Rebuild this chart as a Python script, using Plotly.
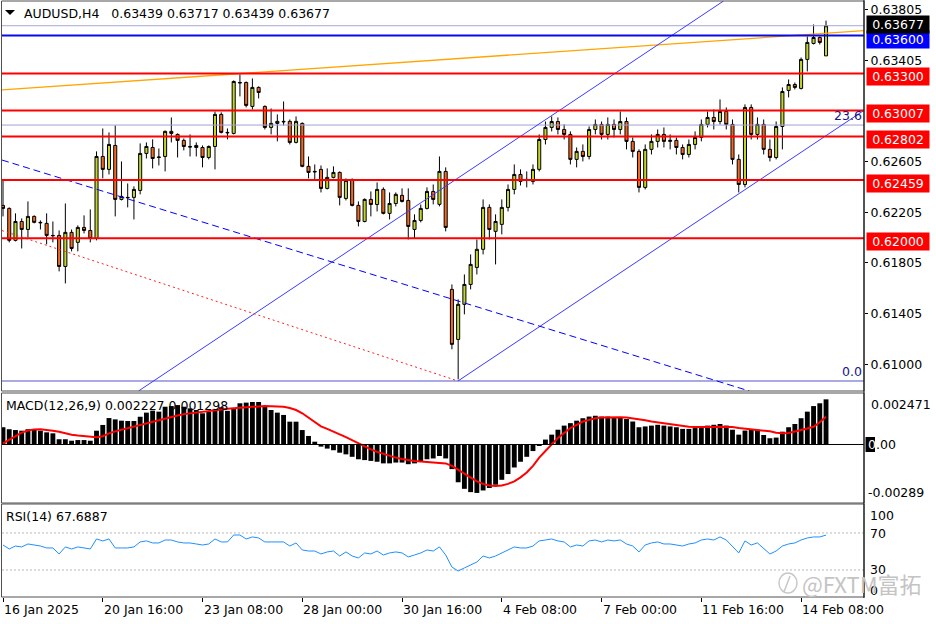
import plotly.graph_objects as go

# ---------------- data ----------------
bar_index = list(range(133))

opens = [0.62259,0.62235,0.61983,0.62132,0.62069,0.62172,0.62125,0.62117,0.62022,0.62022,
         0.61777,0.62046,0.61967,0.62085,0.62061,0.61998,0.62645,0.62543,0.62732,0.62306,
         0.62322,0.62322,0.62377,0.62669,0.62716,0.62637,0.62645,0.62843,0.62819,0.62772,
         0.62724,0.62732,0.62716,0.62637,0.62724,0.62977,0.62835,0.62827,0.63229,0.63229,
         0.63040,0.63190,0.63040,0.62874,0.62906,0.62922,0.62922,0.62756,0.62906,0.62567,
         0.62527,0.62543,0.62393,0.62480,0.62519,0.62314,0.62456,0.62259,0.62132,0.62306,
         0.62266,0.62385,0.62196,0.62274,0.62338,0.62298,0.62069,0.62140,0.62235,0.62369,
         0.62267,0.62527,0.61596,0.61201,0.61478,0.61635,0.61769,0.61912,0.62243,0.62054,
         0.62109,0.62243,0.62385,0.62503,0.62464,0.62448,0.62543,0.62779,0.62874,0.62921,
         0.62858,0.62819,0.62622,0.62685,0.62645,0.62858,0.62898,0.62819,0.62898,0.62858,
         0.62921,0.62764,0.62685,0.62401,0.62701,0.62764,0.62819,0.62764,0.62772,0.62716,
         0.62661,0.62740,0.62795,0.62898,0.62953,0.62921,0.63000,0.62898,0.62622,0.62424,
         0.63032,0.62819,0.62898,0.62701,0.62637,0.62882,0.63166,0.63213,0.63182,0.63411,
         0.63537,0.63584,0.63439]
highs = [0.62464,0.62243,0.62196,0.62156,0.62290,0.62180,0.62140,0.62196,0.62132,0.62061,
         0.62274,0.62069,0.62101,0.62180,0.62227,0.62685,0.62866,0.62835,0.62890,0.62606,
         0.62432,0.62409,0.62748,0.62756,0.62780,0.62708,0.62850,0.62953,0.62827,0.62787,
         0.62819,0.62756,0.62732,0.62732,0.63000,0.62993,0.62866,0.63245,0.63292,0.63237,
         0.63261,0.63198,0.63048,0.63024,0.62977,0.63079,0.62937,0.62961,0.62914,0.62645,
         0.62582,0.62574,0.62551,0.62567,0.62527,0.62472,0.62472,0.62290,0.62314,0.62369,
         0.62440,0.62401,0.62361,0.62361,0.62393,0.62393,0.62188,0.62266,0.62401,0.62424,
         0.62645,0.62559,0.61635,0.61517,0.61714,0.61872,0.61990,0.62306,0.62267,0.62188,
         0.62306,0.62424,0.62582,0.62543,0.62527,0.62582,0.62819,0.62921,0.62961,0.62953,
         0.62898,0.62843,0.62716,0.62740,0.62882,0.62937,0.62921,0.62953,0.62937,0.63000,
         0.62953,0.62795,0.62701,0.62740,0.62819,0.62858,0.62874,0.62819,0.62795,0.62740,
         0.62779,0.62843,0.62937,0.63000,0.63016,0.63095,0.63032,0.62937,0.62661,0.63056,
         0.63056,0.62953,0.62937,0.62779,0.62921,0.63190,0.63253,0.63229,0.63426,0.63592,
         0.63687,0.63592,0.63717]
lows = [0.62172,0.61967,0.61975,0.61919,0.62006,0.62117,0.62069,0.61951,0.61967,0.61738,
        0.61643,0.61896,0.61896,0.62038,0.61967,0.61983,0.62472,0.62503,0.62172,0.62298,
        0.62243,0.62148,0.62346,0.62629,0.62551,0.62574,0.62527,0.62756,0.62637,0.62693,
        0.62645,0.62645,0.62559,0.62622,0.62543,0.62827,0.62780,0.62819,0.63119,0.63032,
        0.63016,0.63103,0.62858,0.62819,0.62764,0.62890,0.62740,0.62748,0.62560,0.62472,
        0.62464,0.62361,0.62385,0.62472,0.62259,0.62298,0.62251,0.62093,0.62125,0.62172,
        0.62211,0.62188,0.62148,0.62251,0.62282,0.61990,0.61998,0.62125,0.62227,0.62267,
        0.62251,0.62054,0.61123,0.60886,0.61399,0.61596,0.61714,0.61872,0.61990,0.61793,
        0.62030,0.62211,0.62346,0.62416,0.62401,0.62424,0.62527,0.62740,0.62843,0.62819,
        0.62779,0.62582,0.62559,0.62606,0.62622,0.62819,0.62779,0.62779,0.62795,0.62819,
        0.62701,0.62637,0.62361,0.62385,0.62661,0.62716,0.62716,0.62701,0.62661,0.62622,
        0.62637,0.62701,0.62764,0.62874,0.62858,0.62898,0.62858,0.62582,0.62361,0.62401,
        0.62779,0.62779,0.62661,0.62606,0.62622,0.62701,0.63111,0.63174,0.63174,0.63316,
        0.63529,0.63529,0.63439]
closes = [0.62235,0.61983,0.62132,0.62069,0.62172,0.62125,0.62122,0.62022,0.62020,0.61777,
          0.62046,0.61919,0.62085,0.62061,0.61998,0.62645,0.62543,0.62740,0.62306,0.62330,
          0.62320,0.62385,0.62669,0.62724,0.62629,0.62640,0.62843,0.62827,0.62772,0.62724,
          0.62720,0.62716,0.62637,0.62724,0.62977,0.62835,0.62832,0.63237,0.63226,0.63048,
          0.63190,0.63150,0.62874,0.62906,0.62922,0.62919,0.62756,0.62922,0.62567,0.62519,
          0.62524,0.62393,0.62480,0.62519,0.62322,0.62456,0.62259,0.62132,0.62306,0.62266,
          0.62385,0.62196,0.62274,0.62346,0.62290,0.62093,0.62140,0.62235,0.62369,0.62306,
          0.62527,0.62085,0.61162,0.61478,0.61635,0.61793,0.61912,0.62243,0.62069,0.62132,
          0.62243,0.62385,0.62503,0.62448,0.62462,0.62543,0.62779,0.62874,0.62921,0.62858,
          0.62819,0.62622,0.62685,0.62645,0.62858,0.62898,0.62819,0.62898,0.62858,0.62921,
          0.62764,0.62685,0.62401,0.62701,0.62764,0.62819,0.62764,0.62772,0.62716,0.62661,
          0.62740,0.62795,0.62898,0.62953,0.62921,0.63000,0.62898,0.62622,0.62424,0.63032,
          0.62819,0.62898,0.62701,0.62637,0.62882,0.63158,0.63213,0.63190,0.63411,0.63545,
          0.63584,0.63545,0.63677]

macd_main = [0.00105,0.00093,0.00088,0.00084,0.00093,0.00093,0.00084,0.00074,0.00068,0.00032,
             0.00032,0.00023,0.00027,0.00027,0.00023,0.00084,0.00119,0.00161,0.00153,0.00145,
             0.00143,0.00143,0.00169,0.00194,0.00206,0.00200,0.00230,0.00234,0.00240,0.00230,
             0.00220,0.00210,0.00190,0.00200,0.00214,0.00227,0.00205,0.00220,0.00251,0.00255,
             0.00259,0.00259,0.00230,0.00210,0.00194,0.00180,0.00139,0.00139,0.00088,0.00052,
             0.00017,-0.00013,-0.00025,-0.00035,-0.00050,-0.00060,-0.00075,-0.00090,-0.00095,-0.00100,
             -0.00105,-0.00115,-0.00115,-0.00110,-0.00110,-0.00120,-0.00115,-0.00105,-0.00090,-0.00085,
             -0.00070,-0.00085,-0.00150,-0.00230,-0.00270,-0.00290,-0.00295,-0.00280,-0.00265,-0.00245,
             -0.00215,-0.00180,-0.00140,-0.00105,-0.00075,-0.00040,-0.00005,0.00030,0.00060,0.00090,
             0.00115,0.00130,0.00145,0.00160,0.00170,0.00175,0.00170,0.00170,0.00165,0.00165,
             0.00155,0.00140,0.00105,0.00110,0.00115,0.00120,0.00115,0.00110,0.00105,0.00095,
             0.00095,0.00100,0.00105,0.00115,0.00120,0.00125,0.00115,0.00090,0.00060,0.00085,
             0.00090,0.00090,0.00058,0.00038,0.00042,0.00078,0.00105,0.00125,0.00160,0.00200,
             0.00234,0.00251,0.00275]
macd_signal = [0.00007,0.00030,0.00050,0.00072,0.00085,0.00092,0.00093,0.00090,0.00084,0.00077,
               0.00068,0.00060,0.00055,0.00052,0.00047,0.00044,0.00050,0.00068,0.00080,0.00090,
               0.00098,0.00107,0.00118,0.00128,0.00139,0.00150,0.00160,0.00169,0.00177,0.00185,
               0.00190,0.00194,0.00200,0.00205,0.00210,0.00213,0.00217,0.00220,0.00224,0.00227,
               0.00230,0.00232,0.00234,0.00234,0.00232,0.00230,0.00222,0.00210,0.00190,0.00165,
               0.00139,0.00110,0.00095,0.00080,0.00062,0.00045,0.00025,0.00005,-0.00015,-0.00030,
               -0.00045,-0.00058,-0.00070,-0.00080,-0.00088,-0.00095,-0.00100,-0.00104,-0.00106,-0.00108,
               -0.00110,-0.00115,-0.00130,-0.00155,-0.00180,-0.00205,-0.00225,-0.00240,-0.00250,-0.00253,
               -0.00250,-0.00240,-0.00225,-0.00200,-0.00170,-0.00130,-0.00080,-0.00040,0.00000,0.00040,
               0.00070,0.00100,0.00120,0.00140,0.00150,0.00160,0.00164,0.00166,0.00167,0.00166,
               0.00164,0.00160,0.00155,0.00148,0.00140,0.00134,0.00128,0.00122,0.00117,0.00112,
               0.00108,0.00106,0.00105,0.00105,0.00106,0.00108,0.00108,0.00106,0.00100,0.00096,
               0.00093,0.00090,0.00088,0.00080,0.00072,0.00068,0.00070,0.00078,0.00087,0.00097,
               0.00108,0.00135,0.00169]

rsi_values = [57.0,52.7,55.9,54.9,58.1,57.0,55.9,53.8,53.8,47.3,
              54.9,52.7,54.9,53.8,52.7,63.5,61.4,63.5,53.8,53.8,
              53.8,54.9,60.3,61.4,59.2,59.2,62.4,62.4,60.3,59.2,
              59.2,58.1,57.0,58.1,63.5,60.3,60.3,67.8,67.8,63.5,
              65.7,64.6,60.3,60.3,60.3,60.3,55.9,59.2,51.6,50.5,
              50.5,47.3,49.5,50.5,45.1,49.5,45.1,43.0,48.4,47.3,
              50.5,46.2,48.4,49.5,48.4,44.1,46.2,48.4,51.6,50.5,
              54.9,46.2,33.2,28.9,32.2,35.4,38.6,45.1,43.0,45.1,
              48.4,51.6,54.9,53.8,53.8,55.9,61.4,62.4,63.5,61.4,
              60.3,54.9,57.0,55.9,61.4,62.4,60.3,62.4,61.4,62.4,
              58.1,55.9,49.5,57.0,59.2,60.3,58.1,58.1,57.0,55.9,
              58.1,59.2,62.4,63.5,62.4,65.7,62.4,54.9,48.4,61.4,
              57.0,59.2,52.7,47.3,50.5,55.9,58.1,59.2,62.4,64.6,
              65.7,65.7,67.69]

time_tick_index = [0, 16, 32, 48, 64, 80, 96, 112, 128]
time_tick_labels = ["16 Jan 2025", "20 Jan 16:00", "23 Jan 08:00", "28 Jan 00:00",
                    "30 Jan 16:00", "4 Feb 08:00", "7 Feb 00:00", "11 Feb 16:00", "14 Feb 08:00"]
price_tick_values = [0.63805, 0.63405, 0.62605, 0.62205, 0.61805, 0.61405, 0.61000]
red_levels = [0.63300, 0.63007, 0.62802, 0.62459, 0.62000]
blue_level = 0.63600
last_price = 0.63677
fib_levels = [("23.6", 0.62893), ("0.0", 0.60873)]

# trend objects: (bar index, price) anchor pairs
orange_line = [(-0.16, 0.63170), (138.09, 0.63638)]
channel_upper = [(21.73, 0.60794), (115.56, 0.63872)]
channel_lower = [(72.97, 0.60873), (138.09, 0.63009)]
blue_dashed = [(-0.16, 0.62617), (119.7, 0.60794)]
red_dotted = [(-0.16, 0.62060), (72.97, 0.60873)]

header = "AUDUSD,H4\u00a0\u00a0\u00a00.63439 0.63717 0.63439 0.63677"
macd_label = "MACD(12,26,9) 0.002227 0.001298"
rsi_label = "RSI(14) 67.6887"

# ---------------- layout helpers ----------------
W, H = 936, 624
def px(x):
    return x / W
def py(y):
    return 1 - y / H

FONT = "DejaVu Sans"
FS = 12.5
X_RANGE = [-0.16, 138.09]
XDOM = [px(2), px(864)]

fig = go.Figure()

fig.add_trace(go.Candlestick(
    x=bar_index, open=opens, high=highs, low=lows, close=closes,
    increasing=dict(line=dict(color="#000000", width=1), fillcolor="#c3d52c"),
    decreasing=dict(line=dict(color="#000000", width=1), fillcolor="#f26a22"),
    whiskerwidth=0, hoverinfo="skip", xaxis="x", yaxis="y", showlegend=False))

fig.add_trace(go.Bar(x=bar_index, y=macd_main, marker=dict(color="#000000", line=dict(width=0)),
                     xaxis="x2", yaxis="y2", showlegend=False, hoverinfo="skip"))
fig.add_trace(go.Scatter(x=bar_index, y=macd_signal, mode="lines",
                         line=dict(color="#ff0000", width=2), xaxis="x2", yaxis="y2",
                         showlegend=False, hoverinfo="skip"))
fig.add_trace(go.Scatter(x=bar_index, y=rsi_values, mode="lines",
                         line=dict(color="#1e90ff", width=1), xaxis="x3", yaxis="y3",
                         showlegend=False, hoverinfo="skip"))

shapes = []
def hline(yval, color, width, yref="y", dash="solid"):
    shapes.append(dict(type="line", xref="x domain", yref=yref, x0=0, x1=1, y0=yval, y1=yval,
                       line=dict(color=color, width=width, dash=dash), layer="above"))

def seg(points, color, width, dash="solid"):
    (x0, y0), (x1, y1) = points
    shapes.append(dict(type="line", xref="x", yref="y", x0=x0, y0=y0, x1=x1, y1=y1,
                       line=dict(color=color, width=width, dash=dash), layer="above"))

# fib & current price lines
hline(fib_levels[0][1], "#a0a0d4", 1)
hline(fib_levels[1][1], "#5555c8", 1)
hline(last_price, "#a8a8d6", 1)
seg(orange_line, "#ffa500", 1.3)
seg(channel_upper, "#3a3aff", 1)
seg(channel_lower, "#3a3aff", 1)
seg(blue_dashed, "#0000ff", 1, "7px,4px")
seg(red_dotted, "#ff2020", 1, "2px,3px")
for lv in red_levels:
    hline(lv, "#ff0000", 2)
hline(blue_level, "#0a0ae6", 2)

# macd zero line and rsi levels
shapes.append(dict(type="line", xref="x2 domain", yref="y2", x0=0, x1=1, y0=0, y1=0,
                   line=dict(color="#000000", width=1), layer="above"))
for lv in (70, 30):
    shapes.append(dict(type="line", xref="x3 domain", yref="y3", x0=0, x1=1, y0=lv, y1=lv,
                       line=dict(color="#b8b8b8", width=1, dash="2px,2px"), layer="below"))

# panel frames
for top, bot in ((1, 391), (393, 503), (504, 597)):
    shapes.append(dict(type="rect", xref="paper", yref="paper", x0=px(1.5), x1=px(864),
                       y0=py(bot), y1=py(top), line=dict(color="#505050", width=1),
                       fillcolor="rgba(0,0,0,0)", layer="above"))
shapes.append(dict(type="line", xref="paper", yref="paper", x0=px(864), x1=px(864),
                   y0=py(0), y1=py(598), line=dict(color="#000000", width=1)))
# header triangle
shapes.append(dict(type="path", xref="paper", yref="paper",
                   path="M {} {} L {} {} L {} {} Z".format(px(5), py(10), px(15), py(10), px(10), py(15)),
                   fillcolor="#000000", line=dict(width=0)))
# macd current-value marker box
shapes.append(dict(type="rect", xref="paper", yref="paper", x0=px(865.5), x1=px(875),
                   y0=py(452), y1=py(437), fillcolor="#000000", line=dict(width=0)))
# watermark logo circle
shapes.append(dict(type="circle", xref="paper", yref="paper", x0=px(779), x1=px(797),
                   y0=py(593), y1=py(573), line=dict(color="#c8c8c8", width=1.5)))
shapes.append(dict(type="line", xref="paper", yref="paper", x0=px(784), x1=px(790),
                   y0=py(592), y1=py(576), line=dict(color="#c8c8c8", width=1.5)))

ann = []
def text(x, y, t, size=FS, color="#000000", xanchor="left", family=FONT, **kw):
    ann.append(dict(x=x, y=y, xref="paper", yref="paper", text=t, showarrow=False,
                    xanchor=xanchor, yanchor="middle", font=dict(family=family, size=size, color=color), **kw))

text(px(22), py(13), header)
text(px(4), py(405), macd_label)
text(px(4), py(516), rsi_label)

# right price boxes
def pbox(price, t, bg, yshift):
    ann.append(dict(x=px(866), y=price, xref="paper", yref="y", text=t, showarrow=False,
                    xanchor="left", yanchor="middle", bgcolor=bg, width=59, height=14,
                    borderpad=1.5, align="center", yshift=yshift,
                    font=dict(family=FONT, size=FS, color="#ffffff")))
for lv in red_levels:
    pbox(lv, "{:.5f}".format(lv), "#ff0000", -3)
pbox(blue_level, "{:.5f}".format(blue_level), "#0000ff", -4)
pbox(last_price, "{:.5f}".format(last_price), "#000000", 1.5)

# fib labels
for name, lv in fib_levels:
    ann.append(dict(x=1, y=lv, xref="x domain", yref="y", text=name, showarrow=False,
                    xanchor="right", yanchor="bottom", yshift=0,
                    font=dict(family=FONT, size=FS, color="#14148c")))

# macd / rsi axis labels
text(px(869), py(404), "0.002471")
text(px(866), py(444.5), '<span style="color:#ffffff">0</span>.00')
text(px(866), py(492), "-0.00289")
text(px(868), py(515), "100")
text(px(868), py(533), "70")
text(px(868), py(569), "30")
text(px(868), py(590), "0")

# time labels
for i, lab in zip(time_tick_index, time_tick_labels):
    ann.append(dict(x=i, y=py(609), xref="x3", yref="paper", text=lab, showarrow=False,
                    xanchor="left", yanchor="middle", xshift=-1,
                    font=dict(family=FONT, size=FS, color="#000000")))

# watermark
text(px(800), py(583), "@FXTM富拓", size=22, color="#c4c4c4", family="Noto Sans CJK SC")

axis_common = dict(range=X_RANGE, domain=XDOM, showgrid=False, zeroline=False, showline=False,
                   fixedrange=True)
fig.update_layout(
    width=W, height=H, margin=dict(l=0, r=0, t=0, b=0),
    paper_bgcolor="#ffffff", plot_bgcolor="#ffffff",
    bargap=0.22, showlegend=False,
    xaxis=dict(**axis_common, anchor="y", showticklabels=False, ticks="",
               rangeslider=dict(visible=False)),
    xaxis2=dict(**axis_common, anchor="y2", showticklabels=False, ticks=""),
    xaxis3=dict(**axis_common, anchor="y3", showticklabels=False, ticks="outside",
                ticklen=4, tickcolor="#000000", tickvals=time_tick_index),
    yaxis=dict(domain=[py(391), py(1)], range=[0.60794, 0.63872], side="right", anchor="x",
               showgrid=False, zeroline=False, tickvals=price_tick_values,
               ticktext=["{:.5f}".format(v) for v in price_tick_values],
               ticks="outside", ticklen=3, tickcolor="#000000",
               tickfont=dict(family=FONT, size=FS, color="#000000"), fixedrange=True),
    yaxis2=dict(domain=[py(503), py(393)], range=[-0.003563, 0.003136], anchor="x2",
                showgrid=False, zeroline=False, showticklabels=False, ticks="", fixedrange=True),
    yaxis3=dict(domain=[py(597), py(504)], range=[0.8, 101.3], anchor="x3",
                showgrid=False, zeroline=False, showticklabels=False, ticks="", fixedrange=True),
    shapes=shapes, annotations=ann,
)

fig.write_html("out.html", config={"displayModeBar": False},
               post_script="document.body.style.margin='0';document.body.style.padding='0';")
